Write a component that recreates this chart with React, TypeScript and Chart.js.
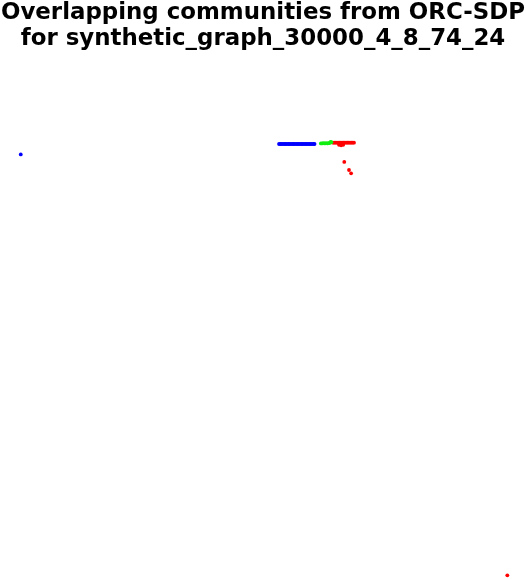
import { useEffect, useRef } from "react"
import { Chart, registerables } from "chart.js"

Chart.register(...registerables)

// Title lines
const titleLines = ["Overlapping communities from ORC-SDP", "for synthetic_graph_30000_4_8_74_24"]

// Community 1 (blue) node positions
const blueX = [
  -0.921, 0.061, 0.066, 0.071, 0.076, 0.081, 0.086, 0.091, 0.096, 0.101, 0.106, 0.111, 0.116, 0.121,
  0.126, 0.131, 0.136, 0.141, 0.146, 0.151, 0.156, 0.161, 0.166, 0.171, 0.176, 0.181, 0.186, 0.191,
  0.196,
]
const blueY = [
  0.637, 0.677, 0.677, 0.677, 0.677, 0.677, 0.677, 0.677, 0.677, 0.677, 0.677, 0.677, 0.677, 0.677,
  0.677, 0.677, 0.677, 0.677, 0.677, 0.677, 0.677, 0.677, 0.677, 0.677, 0.677, 0.677, 0.677, 0.677,
  0.677,
]

// Community 2 (green) node positions
const greenX = [0.22, 0.225, 0.23, 0.235, 0.24, 0.245, 0.25, 0.254, 0.257, 0.26]
const greenY = [0.679, 0.679, 0.68, 0.679, 0.68, 0.679, 0.68, 0.681, 0.685, 0.684]

// Community 3 (red) node positions
const redX = [
  0.266, 0.271, 0.276, 0.281, 0.286, 0.291, 0.296, 0.301, 0.306, 0.311, 0.316, 0.321, 0.326, 0.331,
  0.336, 0.341, 0.346, 0.289, 0.297, 0.305, 0.309, 0.327, 0.335, 0.929,
]
const redY = [
  0.682, 0.682, 0.682, 0.682, 0.682, 0.682, 0.682, 0.682, 0.682, 0.682, 0.682, 0.682, 0.682, 0.682,
  0.682, 0.682, 0.682, 0.674, 0.672, 0.674, 0.608, 0.577, 0.564, -0.982,
]

const toPoints = (xs: number[], ys: number[]) => xs.map((x, i) => ({ x, y: ys[i] }))

export default function App() {
  const chartRef = useRef<HTMLCanvasElement>(null)
  const chartInstance = useRef<Chart | null>(null)

  useEffect(() => {
    if (!chartRef.current) return
    const ctx = chartRef.current.getContext("2d")
    if (!ctx) return

    const pointStyle = { pointRadius: 1.9, pointBorderWidth: 0, pointHoverRadius: 1.9 }

    chartInstance.current = new Chart(ctx, {
      type: "scatter",
      data: {
        datasets: [
          { label: "c1", data: toPoints(blueX, blueY), backgroundColor: "#0000ff", ...pointStyle },
          { label: "c2", data: toPoints(greenX, greenY), backgroundColor: "#11ee11", ...pointStyle },
          { label: "c3", data: toPoints(redX, redY), backgroundColor: "#ff0000", ...pointStyle },
        ],
      },
      options: {
        responsive: false,
        animation: false,
        layout: { padding: 0, autoPadding: false },
        scales: {
          x: { display: false, min: -1, max: 1 },
          y: { display: false, min: -1, max: 1 },
        },
        plugins: {
          legend: { display: false },
          tooltip: { enabled: false },
          title: {
            display: true,
            text: titleLines,
            color: "#000",
            padding: { top: 0, bottom: 8.6 },
            font: { family: "DejaVu Sans", size: 22.9, weight: "bold", lineHeight: "25.7px" },
          },
        },
      },
    })

    return () => {
      chartInstance.current?.destroy()
    }
  }, [])

  return (
    <div style={{ position: "absolute", left: 0, top: 0 }}>
      <canvas ref={chartRef} width={526} height={580} style={{ display: "block" }} />
    </div>
  )
}
